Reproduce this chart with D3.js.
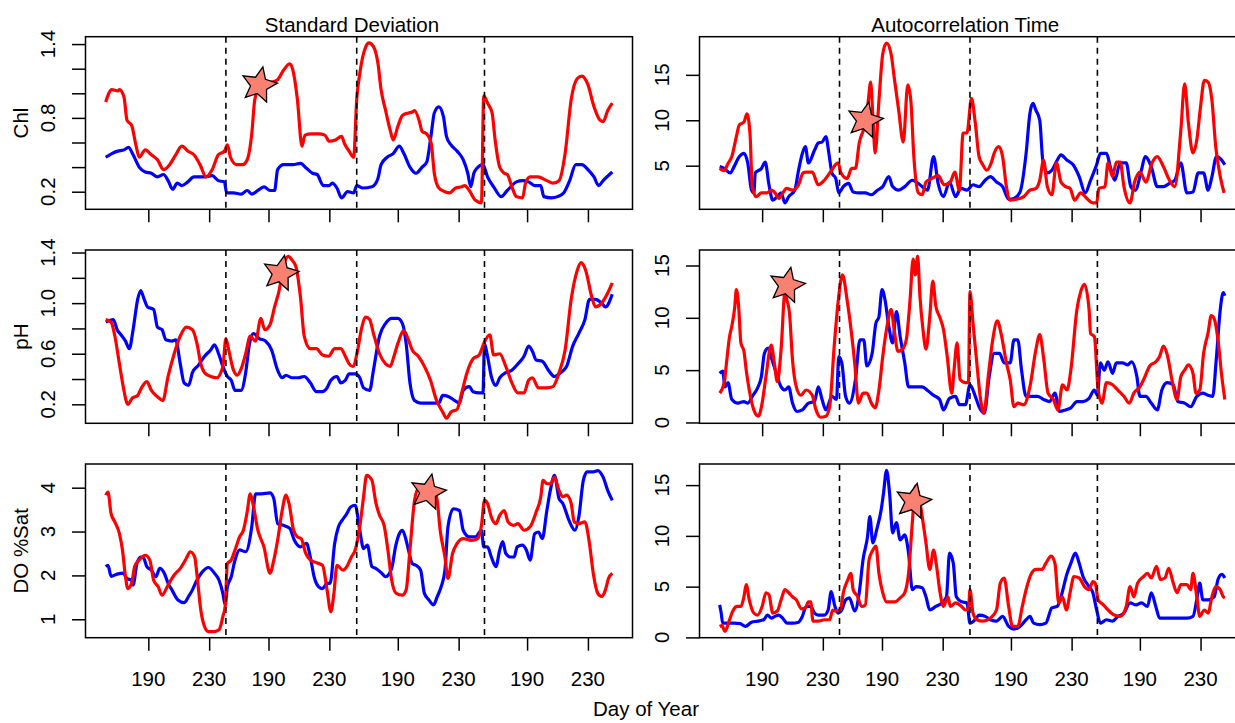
<!DOCTYPE html>
<html><head><meta charset="utf-8">
<script src="https://cdn.jsdelivr.net/npm/d3@7"></script>
<style>
html,body{margin:0;padding:0;background:#fff;}
svg{display:block;}
text{font-family:"Liberation Sans",Arial,Helvetica,sans-serif;fill:#000;}
</style></head><body>
<svg id="chart" width="1235" height="723"></svg>
<script>
// ---------- DATA ----------
// x = day index along the four concatenated seasons (0..333); y = indicator value
const segStartDay = [162, 162, 163, 162];
const segOffset = [0, 79, 165, 249];
const segBreaks = [79, 165, 249];
const tickDays = [190, 230];

const rowLabels = ["Chl", "pH", "DO %Sat"];
const colTitles = ["Standard Deviation", "Autocorrelation Time"];
const xTitle = "Day of Year";

const chlSdRed = [[0,0.93],[4,1.03],[8,1.02],[9,1.03],[12,0.97],[14,0.78],[17,0.74],[20,0.57],[22,0.48],[26,0.54],[30,0.50],[34,0.46],[38,0.38],[42,0.42],[46,0.50],[50,0.57],[54,0.53],[58,0.50],[62,0.42],[66,0.32],[70,0.38],[74,0.50],[78,0.53],[80,0.58],[82,0.48],[86,0.42],[90,0.42],[93,0.46],[96,0.67],[98,0.95],[101,1.05],[105,1.08],[109,1.09],[113,1.11],[117,1.19],[121,1.24],[123,1.19],[126,0.95],[129,0.57],[131,0.66],[135,0.67],[140,0.67],[144,0.66],[147,0.61],[151,0.62],[155,0.65],[157,0.59],[160,0.53],[163,0.48],[165,0.95],[167,1.16],[171,1.38],[173,1.41],[176,1.38],[179,1.24],[181,1.03],[184,0.86],[187,0.70],[189,0.62],[192,0.73],[195,0.82],[199,0.84],[202,0.85],[203,0.86],[206,0.78],[208,0.69],[211,0.67],[214,0.59],[216,0.35],[219,0.23],[223,0.20],[226,0.19],[230,0.23],[234,0.24],[236,0.25],[239,0.21],[243,0.13],[247,0.11],[248.5,0.98],[251,0.92],[254,0.84],[256,0.62],[259,0.40],[262,0.35],[264,0.34],[267,0.24],[270,0.16],[274,0.15],[276,0.27],[279,0.32],[284,0.32],[290,0.29],[294,0.27],[298,0.29],[302,0.51],[306,0.95],[310,1.12],[313,1.14],[317,1.07],[321,0.89],[325,0.78],[327,0.77],[330,0.86],[333,0.92]];
const chlSdBlue = [[0,0.48],[4,0.51],[8,0.53],[12,0.54],[15,0.56],[18,0.50],[22,0.40],[26,0.36],[30,0.35],[34,0.32],[38,0.34],[41,0.29],[44,0.22],[47,0.27],[50,0.25],[54,0.28],[58,0.32],[64,0.32],[70,0.33],[74,0.29],[78,0.28],[79.5,0.19],[84,0.19],[89,0.18],[93,0.21],[96,0.18],[100,0.21],[104,0.24],[108,0.21],[111,0.21],[113,0.38],[117,0.42],[123,0.42],[128,0.43],[132,0.39],[136,0.35],[139,0.34],[143,0.25],[147,0.25],[149,0.27],[152,0.23],[155,0.15],[159,0.20],[163,0.19],[165,0.25],[169,0.23],[175,0.24],[179,0.31],[181,0.42],[185,0.48],[189,0.51],[193,0.57],[196,0.51],[200,0.40],[204,0.35],[208,0.40],[211,0.44],[214,0.67],[216,0.84],[219,0.89],[222,0.81],[224,0.65],[227,0.58],[231,0.53],[235,0.46],[238,0.35],[240,0.24],[242,0.35],[244,0.39],[248,0.42],[251,0.32],[255,0.24],[260,0.16],[264,0.21],[270,0.28],[274,0.29],[278,0.28],[282,0.25],[286,0.25],[288,0.16],[293,0.15],[297,0.16],[301,0.19],[305,0.29],[309,0.42],[313,0.42],[317,0.38],[321,0.32],[324,0.25],[327,0.29],[333,0.36]];

const chlAcRed = [[0,4.7],[3,4.45],[5.5,5.25],[8,6.0],[11,8.2],[13,9.5],[16,9.8],[18,10.7],[20,8.5],[21.5,2.7],[24,1.6],[27.5,2.0],[31,2.0],[34,2.3],[36.5,2.0],[39,1.4],[42,2.1],[44,2.5],[48,2.3],[52,2.9],[55,4.2],[57,4.3],[61,4.3],[65,2.9],[69,3.4],[73,4.3],[78,5.3],[80,4.2],[84,3.6],[87,4.7],[89.5,4.7],[92,7.5],[96,9.7],[98,12.2],[99.5,14.2],[101,10.4],[102.5,6.4],[105,12.2],[107.5,17.3],[110,18.5],[113,17.3],[115,14.8],[118,11.1],[121,7.6],[124,13.9],[126,12.2],[128,6.0],[131,2.0],[133.5,1.8],[136,3.2],[140,3.6],[144,3.9],[148,2.9],[152,3.2],[155,4.3],[158,2.3],[160.5,8.6],[163,8.6],[166,12.4],[168.5,9.7],[171,6.0],[173.5,5.1],[176,4.5],[179,5.3],[181,6.4],[184,7.1],[186.5,6.0],[189,2.7],[191.5,1.2],[195.5,1.3],[200.5,1.6],[204.5,2.3],[208.5,2.5],[211,3.4],[213.5,5.6],[216,2.7],[219,1.8],[222,5.3],[225,3.2],[228,2.7],[231,2.5],[234,1.2],[238,2.0],[242,1.4],[246,0.9],[248.5,0.9],[250,2.5],[254,2.7],[256,5.3],[259,3.8],[261.5,5.4],[264,5.4],[266.5,2.7],[270.5,0.9],[273.5,3.2],[277,4.3],[281,3.2],[285,5.3],[288.5,6.0],[292.5,4.9],[296.5,3.4],[300,2.7],[304,8.9],[306.5,14.0],[309,9.7],[312,6.4],[314.5,7.8],[317,11.5],[319.5,14.4],[322,14.2],[324.5,12.2],[327,7.1],[330,3.8],[332.5,2.0]];
const chlAcBlue = [[0,4.9],[3,4.7],[7,4.2],[9.5,4.9],[13,6.0],[16,6.35],[18.5,5.3],[21,2.3],[22.5,2.0],[23.5,4.2],[27.5,4.7],[30,5.4],[32.5,2.9],[35,1.2],[38,1.6],[40.5,2.0],[43,0.9],[45.5,1.6],[49.5,2.3],[52,4.5],[54.5,6.35],[56.5,7.1],[58.5,5.3],[62.5,6.7],[65,7.5],[67.5,7.6],[70,8.2],[72,6.35],[74,4.2],[76.5,3.6],[78.5,2.0],[81.5,2.7],[85,3.05],[88,2.1],[92,2.0],[96,2.0],[100,1.8],[104,2.3],[107.5,2.7],[111.5,3.8],[114,2.7],[118,2.3],[122,2.7],[127,3.4],[132,2.9],[137,2.3],[141,6.0],[144,3.05],[147.5,1.6],[151.5,3.2],[155.5,1.6],[159,2.5],[163,2.3],[167,2.9],[171,2.7],[175,3.4],[178.5,3.8],[182.5,3.2],[186.5,2.7],[190.5,1.3],[194,1.4],[198,2.1],[202,6.35],[204.5,10.75],[206.5,11.85],[208.5,11.1],[211,10.0],[213,5.6],[216,4.2],[219,4.5],[222.5,5.6],[225,6.2],[229,5.6],[233,5.1],[237,3.8],[241,2.0],[244.5,3.4],[248.5,5.1],[251,6.35],[255,6.35],[257.5,4.9],[260.5,3.4],[264,5.3],[268,5.3],[271,2.7],[274,2.3],[278,4.5],[280.5,6.0],[284.5,4.9],[288.5,2.7],[292.5,2.7],[296.5,3.05],[300,3.4],[304,5.3],[308,2.0],[312,2.1],[315.5,4.2],[319,4.2],[322,2.3],[324.5,3.8],[327.5,6.0],[331,5.6],[333,5.1]];

const phSdRed = [[0,0.87],[3.5,0.85],[6,0.74],[9,0.52],[11.5,0.34],[14.5,0.20],[17.5,0.25],[21,0.27],[23.5,0.33],[27,0.38],[30,0.31],[34,0.26],[37.5,0.23],[41,0.42],[45,0.60],[49,0.74],[53,0.81],[57,0.79],[60,0.68],[62.5,0.52],[65,0.45],[69,0.42],[73,0.41],[77,0.50],[79,0.72],[81,0.62],[84,0.47],[86.5,0.43],[89,0.48],[92,0.60],[95,0.74],[98.5,0.70],[102,0.88],[104.5,0.79],[108,0.83],[111,0.97],[114,1.10],[117,1.30],[120,1.37],[122.5,1.34],[125,1.29],[128,1.05],[130.5,0.74],[134.5,0.64],[138.5,0.64],[142.5,0.59],[146.5,0.58],[150.5,0.64],[154.5,0.64],[157.5,0.58],[160,0.52],[162.5,0.50],[165.5,0.62],[168,0.79],[171,0.89],[173.5,0.87],[176,0.76],[180,0.60],[184,0.52],[187,0.50],[189.5,0.58],[192,0.68],[196,0.78],[199,0.71],[201.5,0.63],[205.5,0.58],[209.5,0.50],[213.5,0.39],[217.5,0.23],[221.5,0.14],[224,0.09],[227,0.14],[231,0.16],[234,0.29],[237.5,0.45],[241.5,0.56],[245.5,0.59],[248.5,0.68],[252.5,0.75],[255,0.59],[259,0.60],[263,0.50],[267,0.37],[271,0.29],[275,0.29],[278,0.39],[280.5,0.41],[284.5,0.33],[290,0.33],[294,0.34],[298,0.45],[302,0.63],[306,1.03],[310,1.26],[312.5,1.32],[315.5,1.26],[319.5,1.05],[322,0.97],[326,1.00],[330,1.08],[333,1.16]];
const phSdBlue = [[0,0.85],[5,0.87],[7.5,0.79],[10,0.75],[13,0.70],[15.5,0.64],[18,0.79],[21,1.03],[23,1.10],[25,1.04],[27.5,0.97],[31.5,0.95],[34,0.81],[37,0.79],[39.5,0.71],[43.5,0.70],[46,0.71],[49,0.52],[51.5,0.37],[54.5,0.35],[57,0.45],[61,0.51],[65,0.58],[69,0.63],[71.5,0.67],[74.5,0.59],[77,0.50],[80,0.42],[82.5,0.39],[85,0.31],[89,0.31],[92,0.45],[94.5,0.68],[97,0.76],[101,0.72],[105,0.70],[109,0.63],[113,0.47],[116,0.41],[118.5,0.43],[122.5,0.41],[126.5,0.41],[130.5,0.42],[134.5,0.37],[138.5,0.30],[142.5,0.30],[145.5,0.33],[148,0.39],[152,0.42],[154.5,0.37],[157.5,0.39],[160,0.44],[164,0.44],[167,0.41],[169.5,0.33],[173.5,0.31],[176,0.47],[180,0.74],[184,0.84],[188,0.88],[192,0.88],[195,0.84],[197.5,0.68],[200,0.37],[203,0.23],[207,0.21],[211,0.21],[215,0.21],[219,0.21],[221.5,0.27],[225.5,0.26],[229.5,0.23],[232.5,0.21],[235,0.31],[239,0.34],[241.5,0.30],[245.5,0.29],[248,0.29],[249,0.68],[251,0.58],[253.5,0.42],[256.5,0.35],[259,0.41],[263,0.45],[267,0.47],[271,0.52],[275,0.58],[278,0.66],[280.5,0.62],[283,0.55],[287,0.54],[291,0.47],[295,0.42],[299,0.45],[303,0.50],[307,0.66],[311,0.76],[315,0.87],[318,1.03],[322,1.03],[326,1.00],[328.5,0.97],[333,1.07]];

const phAcRed = [[0,2.8],[3,3.8],[4.5,5.7],[6.5,8.2],[8,9.2],[10,11.1],[11,12.7],[12.5,11.1],[14,7.6],[16,6.8],[17.5,5.0],[19.5,3.1],[22.5,1.2],[25.5,0.6],[28,1.85],[30.5,4.4],[34,7.4],[36,5.7],[38,3.9],[40.5,7.0],[43,12.4],[44.5,11.6],[46,10.5],[48,6.0],[50.5,3.4],[53.5,2.6],[57,3.1],[61,2.6],[63.5,1.2],[66.5,0.5],[70,0.6],[72.5,1.5],[75.5,7.3],[78,11.4],[81,14.1],[84,11.7],[86.5,9.0],[89,5.7],[91.5,1.85],[94.5,2.8],[97,2.8],[100,1.85],[102.5,1.4],[105,3.1],[107.5,6.3],[110,8.9],[113,10.8],[115,8.9],[117.5,6.8],[120.5,7.0],[123,7.9],[125.5,11.7],[127.5,15.6],[129,14.1],[130.5,15.9],[132,12.1],[134,8.9],[136,7.0],[138.5,10.1],[140.5,13.5],[142.5,11.1],[145,10.1],[147.5,8.9],[150,6.3],[153,2.8],[154.5,5.0],[156.5,7.6],[158.5,4.1],[162,3.8],[164,3.8],[165,12.5],[167,9.5],[169.5,5.7],[172,2.2],[174,0.9],[177.5,5.0],[180,7.9],[183,9.7],[185.5,8.5],[189,5.7],[191.5,4.1],[194,1.5],[196.5,1.85],[200.5,1.7],[204.5,3.4],[208.5,7.0],[211,8.4],[213.5,6.2],[216.5,2.8],[220,2.2],[223,1.2],[226,3.6],[229,3.1],[231.5,5.0],[235.5,10.8],[238,12.5],[240.5,13.2],[243.5,10.8],[244.5,8.5],[247,8.2],[249.5,3.1],[252,1.85],[255,3.8],[259,3.6],[262.5,3.1],[266.5,2.5],[270,1.85],[273,2.8],[277,3.4],[279.5,4.1],[283.5,5.4],[287.5,5.8],[290,6.3],[292.5,7.3],[295,6.5],[298.5,3.8],[301.5,2.2],[304,4.4],[306.5,5.0],[309,5.5],[312,4.7],[314,2.8],[316.5,3.1],[319,6.6],[322,8.6],[324,10.2],[326,9.9],[328.5,7.9],[331,4.4],[333,2.2]];
const phAcBlue = [[0,4.7],[2,4.9],[3.5,3.4],[5.5,3.8],[8,2.2],[12,1.85],[16,2.0],[18.5,1.85],[22,2.6],[25,3.3],[27.5,4.4],[29.5,6.6],[32,7.1],[34.5,6.0],[38,4.4],[40.5,3.4],[43,3.1],[45.5,3.4],[48,1.85],[51,1.05],[54.5,1.2],[58.5,1.85],[62.5,2.0],[65,3.4],[67.5,2.2],[70,1.2],[74,2.5],[77,2.2],[78.5,6.3],[80.5,5.7],[83,2.5],[85.5,1.85],[89.5,4.1],[92.5,7.9],[95,7.9],[97,5.4],[100.5,6.6],[103,9.5],[105,10.1],[107,12.7],[109,11.7],[111.5,9.2],[114,7.6],[116.5,10.6],[119,8.2],[122,5.7],[124.5,3.4],[128,3.4],[133.5,3.4],[137.5,3.0],[141,2.6],[145,2.2],[147.5,1.2],[151.5,2.3],[155.5,2.5],[158,1.7],[162,1.7],[165,3.6],[168.5,2.5],[171,1.5],[174.5,0.9],[177.5,4.2],[181,6.6],[184.5,6.6],[187.5,5.7],[191.5,5.7],[194,7.9],[196.5,7.9],[199,5.0],[202,2.5],[206,2.5],[209.5,2.5],[213.5,2.2],[217.5,2.0],[221,2.8],[224,1.05],[228,1.2],[231.5,1.4],[235.5,2.0],[239.5,2.0],[243.5,2.3],[247,3.1],[249,2.6],[251,5.7],[253.5,5.0],[256,5.8],[259,4.7],[261.5,5.7],[265.5,5.7],[269,5.5],[271.5,5.8],[275,4.4],[277,2.5],[281,2.5],[284.5,1.85],[288.5,1.2],[291.5,3.1],[295,3.8],[299,3.6],[302,2.0],[306.5,1.85],[310.5,1.5],[314.5,2.5],[318.5,2.8],[322,2.6],[325,2.5],[327.5,6.3],[330,10.8],[332,12.4],[333,12.1]];

const doSdRed = [[0,3.83],[1.5,3.90],[3.5,3.41],[6,3.22],[9,2.95],[11,2.58],[13,1.97],[14.5,1.70],[17,1.82],[19,2.20],[22,2.35],[26,2.46],[29,2.35],[31.5,1.89],[34.5,1.74],[37,1.55],[41,1.78],[45,2.01],[49,2.16],[53,2.39],[55.5,2.54],[58.5,2.42],[60,2.01],[62.5,1.21],[65,0.83],[67.5,0.72],[71.5,0.72],[74.5,0.76],[77,1.06],[78.5,1.29],[80,2.27],[82.5,2.35],[85,2.58],[88,2.88],[90.5,3.03],[93,3.45],[95,3.86],[97,3.60],[100,3.03],[104,2.65],[108,2.05],[110.5,2.35],[113,2.80],[116,3.48],[118.5,3.83],[120.5,3.64],[123.5,3.03],[126,2.88],[128.5,2.84],[131.5,2.50],[134.5,2.35],[138.5,2.29],[142.5,2.23],[145.5,1.67],[148,1.17],[150,1.59],[152,2.23],[156,2.12],[158.5,2.20],[161.5,2.42],[164,2.58],[167,3.11],[169.5,3.79],[171.5,4.28],[175,4.17],[177.5,3.67],[180,3.37],[183,3.14],[185.5,2.58],[188,1.89],[191,1.59],[195,1.55],[197.5,1.67],[200,2.58],[203,3.71],[205.5,3.98],[209.5,3.86],[213.5,4.02],[217.5,3.79],[220,2.99],[223,2.42],[225,1.93],[228,2.50],[231,2.73],[235,2.84],[240.5,2.80],[244.5,2.84],[247,3.14],[249,3.71],[251,3.64],[253.5,3.33],[256.5,3.18],[259,3.37],[262,3.48],[264.5,3.22],[268,3.14],[271,3.18],[275,3.03],[279,3.11],[283,3.45],[286,3.79],[287.5,4.17],[290,4.09],[292.5,4.09],[295,4.24],[298,3.94],[300.5,3.79],[303,3.83],[306,3.64],[308,3.22],[311,3.18],[315,3.22],[318,2.73],[320.5,2.05],[323.5,1.59],[326,1.52],[328.5,1.67],[330.5,1.93],[333,2.05]];
const doSdBlue = [[0,2.20],[1.5,2.23],[3.5,1.98],[7.5,2.03],[11.5,2.05],[14,1.93],[17,1.89],[18,1.78],[20.5,2.27],[23,2.42],[25,2.39],[27,2.20],[30,2.12],[33,1.97],[35.5,2.16],[38.5,2.05],[41,1.82],[43.5,1.67],[47.5,1.44],[51.5,1.38],[54.5,1.52],[57,1.67],[59.5,1.86],[63.5,2.08],[67.5,2.18],[71.5,2.05],[74.5,1.89],[77,1.59],[78.5,1.33],[80,1.74],[82.5,1.97],[85,2.35],[88,2.58],[92,2.54],[96,3.11],[98.5,3.86],[102.5,3.86],[108,3.88],[110.5,3.75],[113,3.18],[117,3.14],[121,3.07],[124,2.80],[128,2.65],[132,2.73],[134.5,2.42],[137,1.97],[140,1.74],[142.5,1.70],[145.5,1.82],[147.5,1.82],[150.5,2.73],[153,3.11],[155.5,3.26],[158.5,3.41],[161,3.56],[164,3.60],[167,3.03],[169.5,2.61],[172,2.69],[175,2.20],[177.5,2.16],[181.5,2.05],[184,1.97],[188,2.16],[190.5,2.65],[193,2.95],[195,3.03],[197.5,2.80],[199,2.58],[201.5,2.27],[204,2.23],[207,2.12],[209.5,1.59],[212.5,1.44],[215.5,1.33],[218,1.52],[220.5,1.74],[223,2.12],[225,3.11],[228.5,3.52],[232.5,3.48],[235,3.03],[239,2.88],[243,2.88],[247,3.03],[248.5,2.65],[251,2.65],[253.5,2.42],[256.5,2.20],[259,2.58],[261,2.77],[263,2.50],[266,2.42],[268.5,2.42],[270.5,2.65],[274,2.69],[276.5,2.58],[279,2.35],[282,2.95],[284.5,2.99],[287,2.84],[290,3.48],[292.5,3.98],[295,4.28],[298,3.75],[300.5,3.64],[304.5,3.26],[308.5,3.03],[311,3.33],[314,4.17],[316.5,4.36],[320.5,4.36],[323.5,4.39],[327,4.24],[330,3.94],[333,3.71]];

const doAcRed = [[0,1.08],[1.5,1.15],[3.5,0.6],[6.5,1.74],[9,2.7],[11.5,3.05],[14,3.05],[16,4.0],[17.5,5.2],[19.5,3.7],[22.5,2.4],[25,2.2],[28,3.05],[30.5,4.4],[32.5,4.2],[35,2.4],[38,2.6],[40.5,3.7],[43,4.7],[45.5,4.4],[48,4.0],[50.5,3.7],[54,2.8],[56.5,2.9],[58.5,3.5],[60,3.5],[61.5,1.6],[65,1.6],[69,1.74],[72.5,1.74],[74.5,2.7],[76.5,2.6],[79.5,2.7],[81.5,4.4],[84.5,5.7],[86.5,6.3],[88,4.7],[91,4.0],[93.5,3.05],[96,3.2],[98.5,7.65],[101,8.6],[103,9.0],[105,6.3],[107.5,4.4],[110,3.5],[115.5,3.5],[119,3.9],[122,4.4],[124.5,6.3],[127,11.3],[129,14.9],[131,14.2],[133.5,11.9],[136,9.3],[138.5,6.7],[141,8.6],[143,7.0],[145,4.7],[147.5,3.05],[150.5,4.0],[152,3.05],[155.5,3.4],[159.5,3.05],[162,2.7],[164,2.8],[165,4.7],[167,2.4],[169.5,1.74],[173.5,1.6],[178.5,1.9],[182.5,2.7],[185,5.35],[187.5,5.85],[190.5,3.05],[193,1.08],[196.5,1.08],[199.5,3.05],[202,4.7],[205.5,6.3],[208.5,6.7],[212.5,6.7],[215,7.3],[218.5,8.0],[221,7.3],[223.5,3.4],[226,4.0],[228.5,2.7],[231,4.4],[233.5,6.0],[237,5.85],[240.5,5.0],[243.5,4.7],[246,5.5],[247.5,5.35],[249.5,3.7],[253,3.2],[256,2.7],[260,2.2],[264,2.07],[268,3.05],[270.5,5.0],[273,4.0],[275.5,5.35],[279.5,6.0],[282,6.3],[284.5,5.85],[288,7.0],[290.5,5.7],[293.5,5.85],[296,6.8],[299,5.35],[301.5,4.4],[304,5.2],[308,5.2],[310.5,4.7],[312,6.3],[314.5,4.0],[316.5,2.07],[319.5,2.7],[322,2.4],[324.5,4.0],[327,5.0],[330,4.7],[332,4.0],[333,3.9]];
const doAcBlue = [[0,3.2],[1,2.4],[2,1.4],[5.5,1.4],[9.5,1.4],[13.5,1.35],[17,1.08],[21,1.5],[25,1.6],[29,1.74],[31.5,2.2],[34,1.9],[36.5,2.07],[39,2.2],[41.5,1.9],[44.5,1.4],[48,1.4],[52,1.5],[54.5,2.07],[57,3.05],[60,3.05],[62.5,2.4],[65,2.2],[69,2.2],[71.5,2.7],[73.5,4.5],[76,3.05],[78,2.4],[80.5,2.7],[83,3.7],[85.5,3.9],[89,2.6],[92,4.4],[94.5,7.65],[97.5,9.95],[99,11.9],[101,9.3],[103.5,10.6],[106.5,12.6],[108,14.2],[110,16.45],[112,14.2],[114,10.3],[116.5,11.3],[119,9.6],[122,10.1],[124.5,8.3],[127,4.7],[129.5,5.0],[133.5,4.9],[136,4.0],[138.5,2.7],[142.5,3.05],[146.5,3.4],[149.5,4.0],[151.5,8.3],[154,7.3],[156,4.0],[159.5,3.5],[163,3.4],[165,1.4],[168.5,1.74],[171,2.2],[175,2.07],[178.5,1.74],[182.5,1.6],[186.5,2.07],[190.5,1.08],[194,0.82],[198,1.08],[202,1.74],[204.5,2.07],[207,1.4],[211,1.25],[215,1.4],[219,2.9],[222.5,3.05],[225,4.0],[229,6.3],[231.5,7.3],[234.5,8.3],[237,7.3],[239.5,6.0],[243.5,5.0],[246,4.4],[248.5,2.7],[251,1.4],[255,1.74],[259,1.6],[262.5,2.07],[266.5,2.4],[270.5,3.4],[274.5,3.2],[278,3.4],[282,3.05],[284.5,4.4],[287.5,3.05],[290,1.9],[295,1.9],[301.5,1.9],[308,1.9],[312,2.07],[314.5,3.7],[316.5,5.35],[318.5,3.7],[322,3.7],[326,4.0],[328.5,5.7],[331,6.2],[333,5.85]];

// star markers [day index, value]
const starChlSd = [100.8, 1.067];
const starChlAc = [95.8, 10.0];
const starPhSd  = [115, 1.235];
const starPhAc  = [44.4, 13.1];
const starDoSd  = [211.9, 3.90];
const starDoAc  = [127.7, 13.4];

// y tick values and labelled ticks
const sdTicks = [0.2, 0.4, 0.6, 0.8, 1.0, 1.2, 1.4];
const chlSdLabels = [0.2, 0.8, 1.4];
const phSdLabels = [0.2, 0.6, 1.0, 1.4];
const acTicks = [0, 5, 10, 15];
const doSdTicks = [1, 2, 3, 4];

// ---------- LAYOUT ----------
const svg = d3.select("#chart");
const cols = [{x0: 85.5, x1: 632.5}, {x0: 699.5, x1: 1245}];
const rows = [{y0: 36.7, y1: 209.3}, {y0: 250, y1: 423.3}, {y0: 464, y1: 637.7}];
const xDomain = [-13.3, 346.3];
const FS = 20.5;
const LW = 3.2;

const panels = [
  {r:0,c:0, red:chlSdRed, blue:chlSdBlue, dom:[0.057,1.46], ticks:sdTicks, labels:chlSdLabels, fmt:d3.format(".1f"), star:starChlSd},
  {r:0,c:1, red:chlAcRed, blue:chlAcBlue, dom:[0.2,19.2], ticks:acTicks, labels:acTicks, fmt:d3.format("d"), star:starChlAc},
  {r:1,c:0, red:phSdRed, blue:phSdBlue, dom:[0.05,1.42], ticks:sdTicks, labels:phSdLabels, fmt:d3.format(".1f"), star:starPhSd},
  {r:1,c:1, red:phAcRed, blue:phAcBlue, dom:[-0.08,16.48], ticks:acTicks, labels:acTicks, fmt:d3.format("d"), star:starPhAc},
  {r:2,c:0, red:doSdRed, blue:doSdBlue, dom:[0.58,4.54], ticks:doSdTicks, labels:doSdTicks, fmt:d3.format("d"), star:starDoSd},
  {r:2,c:1, red:doAcRed, blue:doAcBlue, dom:[-0.03,17.08], ticks:acTicks, labels:acTicks, fmt:d3.format("d"), star:starDoAc}
];

const xTickVals = [];
segOffset.forEach((off, k) => tickDays.forEach(d => xTickVals.push({v: off + d - segStartDay[k], day: d})));

function starPath(cx, cy, R, r, rotDeg) {
  const pts = [];
  const rot = rotDeg * Math.PI / 180;
  for (let i = 0; i < 10; i++) {
    const a = -Math.PI / 2 + rot + i * Math.PI / 5;
    const rad = i % 2 === 0 ? R : r;
    pts.push([cx + rad * Math.cos(a), cy + rad * Math.sin(a)]);
  }
  return "M" + pts.map(p => p[0].toFixed(2) + "," + p[1].toFixed(2)).join("L") + "Z";
}

panels.forEach(p => {
  const C = cols[p.c], R = rows[p.r];
  const x = d3.scaleLinear().domain(xDomain).range([C.x0, C.x1]);
  const y = d3.scaleLinear().domain(p.dom).range([R.y1, R.y0]);
  const inDom = v => v >= p.dom[0] && v <= p.dom[1];
  const g = svg.append("g");

  const clipId = "clip" + p.r + p.c;
  g.append("clipPath").attr("id", clipId).append("rect")
    .attr("x", C.x0).attr("y", R.y0).attr("width", C.x1 - C.x0).attr("height", R.y1 - R.y0);

  const line = d3.line().x(d => x(d[0])).y(d => y(d[1])).curve(d3.curveMonotoneX);
  const pl = g.append("g").attr("clip-path", `url(#${clipId})`);
  pl.append("path").datum(p.blue).attr("d", line).attr("fill", "none")
    .attr("stroke", "#0000FF").attr("stroke-width", LW).attr("stroke-linejoin", "round");
  pl.append("path").datum(p.red).attr("d", line).attr("fill", "none")
    .attr("stroke", "#FF0000").attr("stroke-width", LW).attr("stroke-linejoin", "round");

  // season separators
  pl.selectAll("line.sep").data(segBreaks).enter().append("line")
    .attr("x1", d => x(d)).attr("x2", d => x(d))
    .attr("y1", R.y0).attr("y2", R.y1)
    .attr("stroke", "#000").attr("stroke-width", 1.6).attr("stroke-dasharray", "6,5");

  // star
  g.append("path").attr("d", starPath(x(p.star[0]), y(p.star[1]), 18.5, 8.6, 12))
    .attr("fill", "#FA8072").attr("stroke", "#000").attr("stroke-width", 1.3)
    .attr("stroke-linejoin", "miter");

  // frame
  g.append("rect").attr("x", C.x0).attr("y", R.y0)
    .attr("width", C.x1 - C.x0).attr("height", R.y1 - R.y0)
    .attr("fill", "none").attr("stroke", "#000").attr("stroke-width", 1.5);

  // y axis ticks (only those inside the axis range)
  const yAx = d3.axisLeft(y).tickValues(p.ticks.filter(inDom)).tickSize(13.5).tickFormat("");
  const ya = g.append("g").attr("transform", `translate(${C.x0},0)`).call(yAx);
  ya.select(".domain").remove();
  ya.selectAll(".tick line").attr("stroke", "#000").attr("stroke-width", 1.5);
  g.selectAll("text.ylab").data(p.labels.filter(inDom)).enter().append("text")
    .attr("transform", d => `translate(${C.x0 - 31},${y(d)}) rotate(-90)`)
    .attr("text-anchor", "middle").attr("font-size", FS)
    .text(d => p.fmt(d));

  // x axis ticks
  const xAx = d3.axisBottom(x).tickValues(xTickVals.map(d => d.v)).tickSize(13).tickFormat("");
  const xa = g.append("g").attr("transform", `translate(0,${R.y1})`).call(xAx);
  xa.select(".domain").remove();
  xa.selectAll(".tick line").attr("stroke", "#000").attr("stroke-width", 1.5);
  if (p.r === 2) {
    g.selectAll("text.xlab").data(xTickVals).enter().append("text")
      .attr("x", d => x(d.v)).attr("y", 686)
      .attr("text-anchor", "middle").attr("font-size", FS)
      .text(d => d.day);
  }
  if (p.c === 0) {
    svg.append("text")
      .attr("transform", `translate(28,${(R.y0 + R.y1) / 2}) rotate(-90)`)
      .attr("text-anchor", "middle").attr("font-size", FS)
      .text(rowLabels[p.r]);
  }
  if (p.r === 0) {
    svg.append("text").attr("x", (C.x0 + C.x1) / 2 - 7).attr("y", 32)
      .attr("text-anchor", "middle").attr("font-size", FS)
      .text(colTitles[p.c]);
  }
});

svg.append("text").attr("x", 646).attr("y", 716)
  .attr("text-anchor", "middle").attr("font-size", FS).text(xTitle);
</script>
</body></html>
